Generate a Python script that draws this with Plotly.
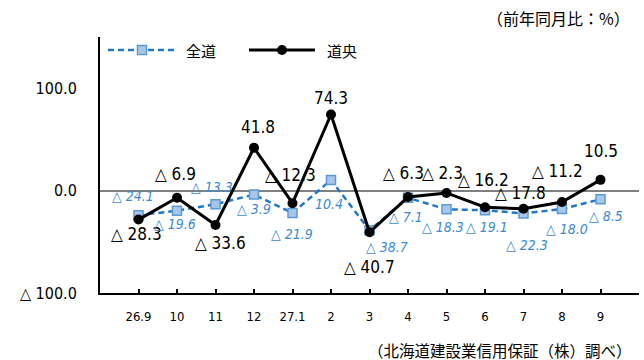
import plotly.graph_objects as go

# ---- data ----
categories = ["26.9", "10", "11", "12", "27.1", "2", "3", "4", "5", "6", "7", "8", "9"]
zendo = [-24.1, -19.6, -13.3, -3.9, -21.9, 10.4, -38.7, -7.1, -18.3, -19.1, -22.3, -18.0, -8.5]
dochuo = [-28.3, -6.9, -33.6, 41.8, -12.3, 74.3, -40.7, -6.3, -2.3, -16.2, -17.8, -11.2, 10.5]
y_tickvals = [-100, 0, 100]
y_ticktext = ["△ 100.0", "0.0", "100.0"]

# label offsets in pixels (dx right, dy up)
dochuo_off = [(-2, -14), (-2, 24), (5, -18), (4, 21), (-2, 28), (0, 17), (0, -35),
              (-5, 24), (-4, 20), (-2, 27), (-3, 16), (-5, 31), (0, 29)]
zendo_off = [(-6, 19), (-2, -13), (-4, 17), (0, -14), (-1, -21), (-2, -24), (17, -17),
             (-2, -19), (-4, -18), (2, -17), (3, -32), (5, -20), (5, -17)]

BLUE_LINE = "#1f78c8"
BLUE_FILL = "#a8c6ea"
BLUE_EDGE = "#5b9bd5"
BLUE_TEXT = "#3b8ad4"
NARROW = "Liberation Sans Narrow, DejaVu Sans Condensed, DejaVu Sans, sans-serif"
JP = "Noto Sans CJK JP, sans-serif"

def fmt(v):
    return f"△ {abs(v):.1f}" if v < 0 else f"{v:.1f}"

xs = list(range(len(categories)))

fig = go.Figure()
fig.add_trace(go.Scatter(
    x=xs, y=zendo, mode="lines+markers", name="全道",
    line=dict(color=BLUE_LINE, width=2.5, dash="6px,4px"),
    marker=dict(symbol="square", size=9, color=BLUE_FILL, line=dict(color=BLUE_EDGE, width=1.5)),
    showlegend=False, cliponaxis=False))
fig.add_trace(go.Scatter(
    x=xs, y=dochuo, mode="lines+markers", name="道央",
    line=dict(color="black", width=3),
    marker=dict(symbol="circle", size=10, color="black"),
    showlegend=False, cliponaxis=False))

annotations = []
for i, v in enumerate(dochuo):
    dx, dy = dochuo_off[i]
    annotations.append(dict(x=xs[i], y=v, xref="x", yref="y", text=fmt(v), showarrow=False,
                            xshift=dx, yshift=dy, font=dict(family=NARROW, size=17, color="black")))
for i, v in enumerate(zendo):
    dx, dy = zendo_off[i]
    annotations.append(dict(x=xs[i], y=v, xref="x", yref="y", text=f"<i>{fmt(v)}</i>", showarrow=False,
                            xshift=dx, yshift=dy, font=dict(family=NARROW, size=14, color=BLUE_TEXT)))

PL, PR, PT, PB = 100, 5, 37, 67
W, H = 644, 360
pw, ph = W - PL - PR, H - PT - PB

def px_x(p):
    return (p - PL) / pw

def px_y(p):
    return (H - PB - p) / ph

annotations.append(dict(x=px_x(632), y=px_y(18), xref="paper", yref="paper", text="（前年同月比：%）",
                        showarrow=False, xanchor="right", yanchor="middle",
                        font=dict(family=JP, size=16, color="black")))
annotations.append(dict(x=px_x(634), y=px_y(350), xref="paper", yref="paper",
                        text="（北海道建設業信用保証（株）調べ）", showarrow=False,
                        xanchor="right", yanchor="middle", font=dict(family=JP, size=15.5, color="black")))

# legend (drawn manually to match the reference's long legend lines)
legend_y = px_y(50)
annotations.append(dict(x=px_x(184), y=legend_y, xref="paper", yref="paper", text="全道", showarrow=False,
                        xanchor="left", yanchor="middle", font=dict(family=JP, size=15, color="black")))
annotations.append(dict(x=px_x(325), y=legend_y, xref="paper", yref="paper", text="道央", showarrow=False,
                        xanchor="left", yanchor="middle", font=dict(family=JP, size=15, color="black")))

shapes = [
    dict(type="line", xref="paper", yref="paper", x0=px_x(108), x1=px_x(177), y0=legend_y, y1=legend_y,
         line=dict(color=BLUE_LINE, width=2.5, dash="6px,4px")),
    dict(type="rect", xref="paper", yref="paper", xsizemode="pixel", ysizemode="pixel",
         xanchor=px_x(142), yanchor=legend_y, x0=-4.5, x1=4.5, y0=-4.5, y1=4.5,
         fillcolor=BLUE_FILL, line=dict(color=BLUE_EDGE, width=1.5)),
    dict(type="line", xref="paper", yref="paper", x0=px_x(249), x1=px_x(315), y0=legend_y, y1=legend_y,
         line=dict(color="black", width=3)),
    dict(type="circle", xref="paper", yref="paper", xsizemode="pixel", ysizemode="pixel",
         xanchor=px_x(282), yanchor=legend_y, x0=-5, x1=5, y0=-5, y1=5,
         fillcolor="black", line=dict(color="black", width=0)),
]

fig.update_layout(
    width=W, height=H,
    margin=dict(l=PL, r=PR, t=PT, b=PB),
    paper_bgcolor="white", plot_bgcolor="white",
    annotations=annotations, shapes=shapes,
    xaxis=dict(range=[-1, len(categories)],
               tickvals=list(range(-1, len(categories) + 1)),
               ticktext=[""] + categories + [""],
               ticks="inside", ticklen=4, tickwidth=1.5, tickcolor="black",
               showline=True, linecolor="black", linewidth=2,
               showgrid=False, zeroline=False, ticklabelstandoff=10,
               tickfont=dict(family=NARROW, size=13, color="black")),
    yaxis=dict(range=[-100, 150], tickvals=y_tickvals, ticktext=y_ticktext,
               showline=True, linecolor="black", linewidth=2,
               showgrid=False, zeroline=True, zerolinecolor="#808080", zerolinewidth=1.5,
               ticks="", ticklabelstandoff=18,
               tickfont=dict(family=NARROW, size=16, color="black")),
)

fig.write_html("out.html")
